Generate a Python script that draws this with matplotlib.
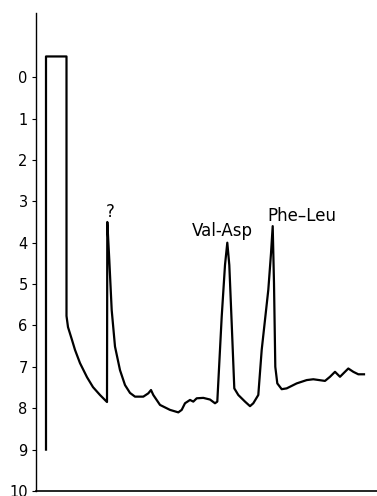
import matplotlib.pyplot as plt

# elution trace (position in arbitrary units, absorbance reading)
pos = [10, 10, 30.5, 30.5, 32, 36, 39, 44, 51, 57, 64, 71,
       71.3, 73.3, 75.7, 79, 84, 89, 94, 99, 107.3, 112.3, 115, 117.3, 124, 134, 142.3,
       145.7, 149, 154, 157.3, 160.7, 167.3, 174, 179, 181.3,
       185.7, 189, 191.3, 193.3, 195.7, 198.3, 202.3, 209, 214, 217.3, 222.3,
       225.7, 232.3, 235, 236.7, 238, 239.3, 241.3, 245.7, 250.7, 260.7, 270.7,
       277.3, 289, 294, 299, 304, 312.3, 317.3, 322.3, 328]
reading = [9.0, -0.5, -0.5, 5.77, 6.04, 6.35, 6.59, 6.91, 7.25, 7.49, 7.68, 7.85,
           3.50, 4.42, 5.63, 6.51, 7.08, 7.44, 7.63, 7.72, 7.72, 7.64, 7.56, 7.68, 7.92, 8.04, 8.10,
           8.04, 7.88, 7.80, 7.84, 7.76, 7.75, 7.79, 7.88, 7.84,
           5.79, 4.54, 4.00, 4.54, 5.95, 7.52, 7.68, 7.84, 7.95, 7.88, 7.68,
           6.59, 5.14, 4.26, 3.60, 4.98, 7.00, 7.40, 7.54, 7.52, 7.40, 7.32,
           7.30, 7.34, 7.24, 7.12, 7.24, 7.04, 7.12, 7.18, 7.18]

peak_labels = ["?", "Val-Asp", "Phe\u2013Leu"]
label_pos = [74, 186, 266]
label_reading = [3.26, 3.72, 3.36]

y_ticks = list(range(0, 11))

fig = plt.figure(figsize=(3.77, 4.96), dpi=100)
ax = fig.add_axes([36 / 377, 5 / 496, 341 / 377, 478 / 496])

ax.plot(pos, reading, color="black", lw=1.6, solid_joinstyle="round")

for t, x, y in zip(peak_labels, label_pos, label_reading):
    ax.text(x, y, t, ha="center", va="center", fontsize=12, family="DejaVu Sans")

ax.set_xlim(0, 341)
ax.set_ylim(10, -1.55)
ax.set_yticks(y_ticks)
ax.set_xticks([])
ax.tick_params(axis="y", length=3, width=0.8, pad=3, labelsize=10.5)
ax.spines["top"].set_visible(False)
ax.spines["right"].set_visible(False)
ax.spines["left"].set_linewidth(1.0)
ax.spines["bottom"].set_linewidth(1.2)

fig.savefig("out.png", dpi=100)
